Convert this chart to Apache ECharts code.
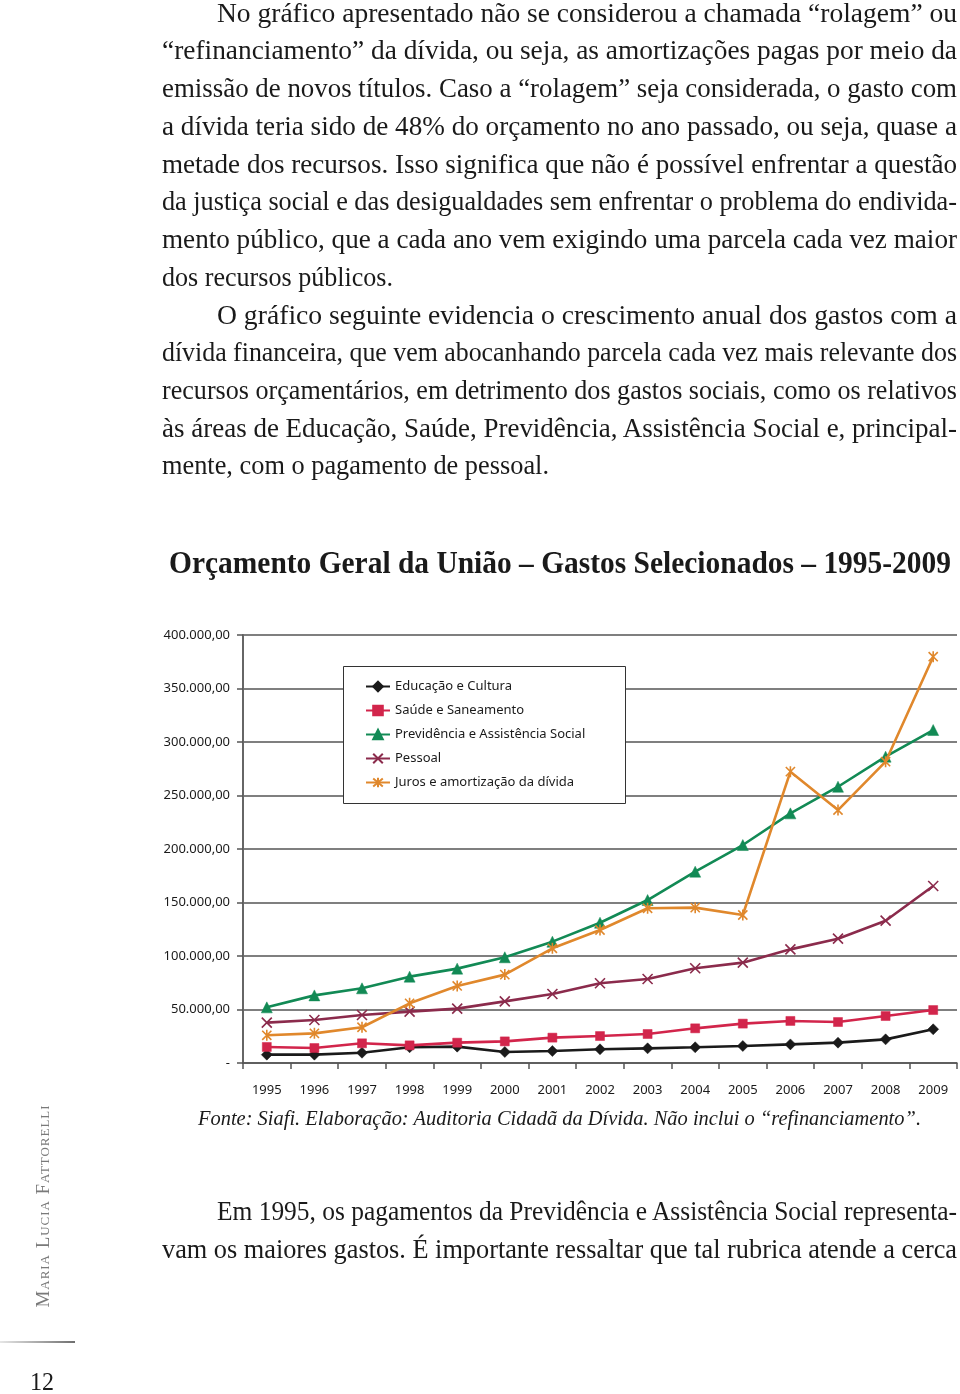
<!DOCTYPE html>
<html>
<head>
<meta charset="utf-8">
<script src="https://cdn.jsdelivr.net/npm/echarts@6/dist/echarts.min.js"></script>
<style>
html,body{margin:0;padding:0;background:#fff;}
#page{position:relative;width:960px;height:1394px;overflow:hidden;background:#fff;}
#chart{position:absolute;left:0;top:0;width:960px;height:1394px;}
.ln{position:absolute;white-space:nowrap;font-family:"Liberation Serif","DejaVu Serif",serif;color:#1a1a1a;pointer-events:none;}
.ln span{display:inline-block;transform-origin:0 50%;}
</style>
</head>
<body>
<div id="page">
  <div id="chart"></div>
</div>
<script>
// ---------- data ----------
const years = ['1995','1996','1997','1998','1999','2000','2001','2002','2003','2004','2005','2006','2007','2008','2009'];
const educacao   = [7800, 7800, 9600, 14700, 15300, 10300, 11200, 12800, 13700, 14700, 15900, 17400, 19000, 22100, 31500];
const saude      = [15000, 14000, 18400, 16500, 19000, 20200, 23700, 25200, 27100, 32400, 36800, 39300, 38300, 43900, 49500];
const previdencia= [52000, 63200, 69800, 80700, 88200, 98800, 113400, 131100, 152300, 178800, 203700, 233300, 258200, 286300, 311200];
const pessoal    = [37700, 40200, 44900, 48000, 50800, 57600, 64500, 74500, 78500, 88500, 93800, 106200, 116200, 133000, 165400];
const juros      = [25900, 27700, 33400, 55800, 72000, 82600, 107200, 124300, 144600, 145200, 138300, 272300, 236400, 281600, 379700];
const seriesNames = ['Educação e Cultura','Saúde e Saneamento','Previdência e Assistência Social','Pessoal','Juros e amortização da dívida'];
const yTicks = [0, 50000, 100000, 150000, 200000, 250000, 300000, 350000, 400000];

// ---------- text ----------
const page = document.getElementById('page');
function place(txt, x0, x1, yc, fs, mode, extra){
  const H = Math.round(fs*1.5);
  const d = document.createElement('div');
  d.className = 'ln';
  d.style.left = x0 + 'px';
  d.style.top = (yc - H/2 - 0.11*fs + 2) + 'px';
  d.style.fontSize = fs + 'px';
  d.style.lineHeight = H + 'px';
  if (extra) Object.assign(d.style, extra);
  const s = document.createElement('span');
  s.textContent = txt;
  d.appendChild(s);
  page.appendChild(d);
  const w = s.getBoundingClientRect().width;
  const target = x1 - x0;
  const n = (txt.match(/ /g) || []).length;
  if (mode === 'justify' && w < target && n > 0) {
    s.style.wordSpacing = ((target - w)/n) + 'px';
  } else {
    s.style.transform = 'scaleX(' + (target/w) + ')';
  }
}
const FS = 28;
const L = 162, R = 957, IND = 217;
const para = [
  ['No gráfico apresentado não se considerou a chamada “rolagem” ou', IND, R, 14, 'justify'],
  ['“refinanciamento” da dívida, ou seja, as amortizações pagas por meio da', L, R, 51, 'justify'],
  ['emissão de novos títulos. Caso a “rolagem” seja considerada, o gasto com', L, R, 89, 'justify'],
  ['a dívida teria sido de 48% do orçamento no ano passado, ou seja, quase a', L, R, 127, 'justify'],
  ['metade dos recursos. Isso significa que não é possível enfrentar a questão', L, R, 165, 'justify'],
  ['da justiça social e das desigualdades sem enfrentar o problema do endivida-', L, R, 202, 'justify'],
  ['mento público, que a cada ano vem exigindo uma parcela cada vez maior', L, R, 240, 'justify'],
  ['dos recursos públicos.', L, 393, 278, 'left'],
  ['O gráfico seguinte evidencia o crescimento anual dos gastos com a', IND, R, 316, 'justify'],
  ['dívida financeira, que vem abocanhando parcela cada vez mais relevante dos', L, R, 353, 'justify'],
  ['recursos orçamentários, em detrimento dos gastos sociais, como os relativos', L, R, 391, 'justify'],
  ['às áreas de Educação, Saúde, Previdência, Assistência Social e, principal-', L, R, 429, 'justify'],
  ['mente, com o pagamento de pessoal.', L, 549, 466, 'left'],
  ['Em 1995, os pagamentos da Previdência e Assistência Social representa-', IND, R, 1212, 'justify'],
  ['vam os maiores gastos. É importante ressaltar que tal rubrica atende a cerca', L, R, 1250, 'justify']
];
para.forEach(p => place(p[0], p[1], p[2], p[3], FS, p[4]));
place('Orçamento Geral da União – Gastos Selecionados – 1995-2009', 169, 951, 564, 32, 'left', {fontWeight:'bold', color:'#1a1a1a'});
place('Fonte: Siafi. Elaboração: Auditoria Cidadã da Dívida. Não inclui o “refinanciamento”.', 198, 921, 1118, 21, 'left', {fontStyle:'italic'});
place('12', 30, 54, 1383, 25, 'left');

// sidebar author name (rotated)
(function(){
  const d = document.createElement('div');
  d.className = 'ln';
  d.style.fontSize = '19px';
  d.style.lineHeight = '22px';
  d.style.fontVariant = 'small-caps';
  d.style.color = '#7a7a7a';
  d.style.letterSpacing = '1px';
  d.textContent = 'Maria Lucia Fattorelli';
  page.appendChild(d);
  const r = d.getBoundingClientRect();
  const w = r.width, h = r.height;
  d.style.left = (43 - w/2) + 'px';
  d.style.top = (1206 - h/2) + 'px';
  d.style.transformOrigin = '50% 50%';
  d.style.transform = 'rotate(-90deg) scaleX(' + (203/w) + ')';
})();
// gradient rule
(function(){
  const d = document.createElement('div');
  d.style.position = 'absolute';
  d.style.left = '0px'; d.style.top = '1341px';
  d.style.width = '75px'; d.style.height = '2px';
  d.style.background = 'linear-gradient(to right, #e6e6e6, #6f6f6f)';
  page.appendChild(d);
})();

// ---------- chart ----------
const colors = ['#1a1a1a', '#d2254b', '#128a55', '#8b2b4c', '#e0882c'];
const xPath = 'path://M0,0L10,10M10,0L0,10';
const starPath = 'path://M0,0L10,10M10,0L0,10M5,-1L5,11';
const symbols = ['diamond', 'rect', 'triangle', xPath, starPath];
const symSizes = [11, 9, 11, 10, 11];
const dataArr = [educacao, saude, previdencia, pessoal, juros];

const chart = echarts.init(document.getElementById('chart'), null, {renderer:'canvas'});
function fmt(v){
  if (v === 0) return '-';
  const s = Math.round(v).toString().replace(/\B(?=(\d{3})+(?!\d))/g, '.');
  return s + ',00';
}
const axisFont = '"Noto Sans", "Open Sans", sans-serif';
chart.setOption({
  animation: false,
  color: colors,
  grid: {left: 243, top: 635, width: 714, height: 428, containLabel: false},
  legend: {
    orient: 'vertical',
    left: 344, top: 666,
    padding: [14, 20, 14, 21],
    itemWidth: 24, itemHeight: 12, itemGap: 11,
    data: seriesNames,
    textStyle: {fontFamily: axisFont, fontSize: 13, color: '#1a1a1a'},
    z: 6
  },
  graphic: [{
    type: 'rect', z: 5,
    shape: {x: 343.5, y: 666.5, width: 282, height: 137},
    style: {fill: '#fff', stroke: '#333', lineWidth: 1}
  }],
  xAxis: {
    type: 'category', data: years, boundaryGap: true,
    axisLine: {show: true, lineStyle: {color: '#555', width: 1.5}},
    axisTick: {show: true, length: 6, lineStyle: {color: '#555', width: 1.5}},
    axisLabel: {margin: 21, fontFamily: axisFont, fontSize: 13, color: '#1a1a1a'},
    splitLine: {show: false}
  },
  yAxis: {
    type: 'value', min: 0, max: 400000, interval: 50000,
    axisLine: {show: true, lineStyle: {color: '#666', width: 2}},
    axisTick: {show: true, length: 6, lineStyle: {color: '#555', width: 1.5}},
    axisLabel: {margin: 13, fontFamily: axisFont, fontSize: 13, color: '#1a1a1a',
      formatter: v => yTicks.indexOf(v) >= 0 ? fmt(v) : ''},
    splitLine: {show: true, lineStyle: {color: '#555', width: 1.5}}
  },
  series: seriesNames.map((name, i) => ({
    name: name, type: 'line', data: dataArr[i],
    symbol: symbols[i], symbolSize: symSizes[i], symbolKeepAspect: true,
    showSymbol: true,
    lineStyle: {color: colors[i], width: 2.6},
    itemStyle: {color: colors[i], borderColor: colors[i], borderWidth: (i >= 3 ? 1.6 : 0.5)},
    z: 3 + i * 0.01
  }))
});
</script>
</body>
</html>
